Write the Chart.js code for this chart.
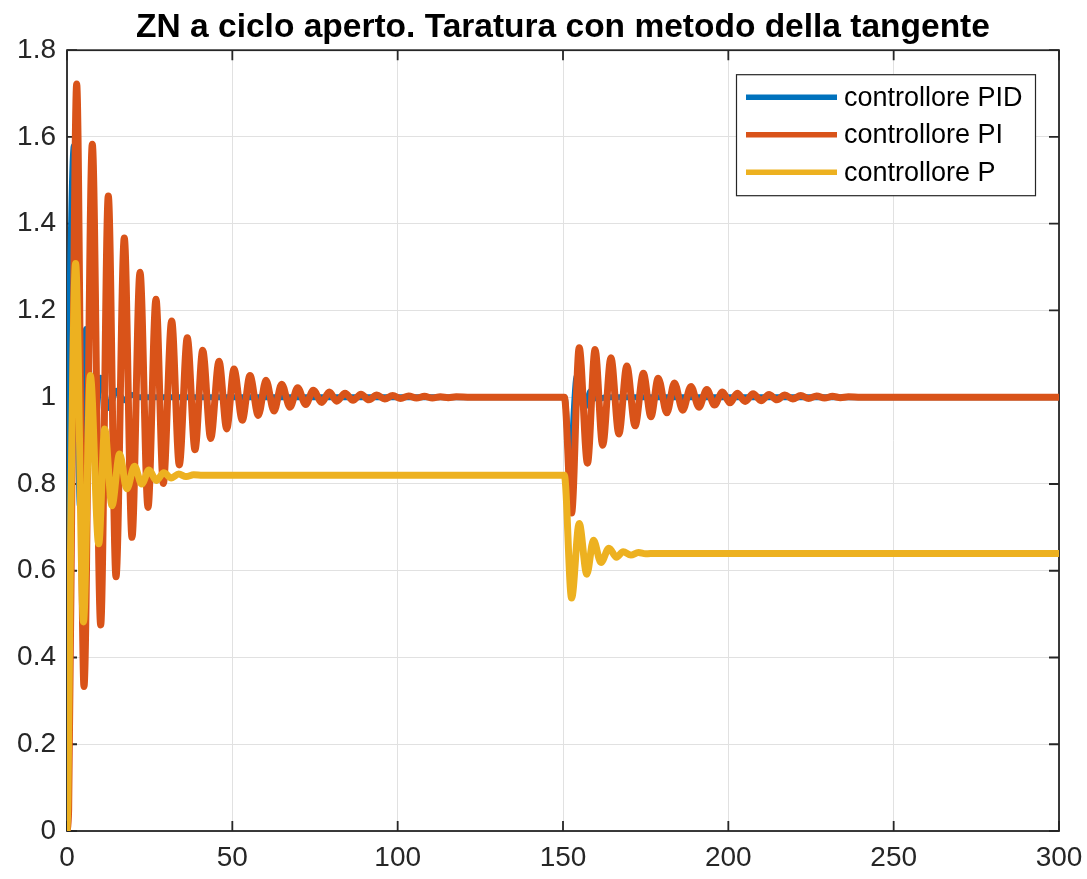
<!DOCTYPE html>
<html>
<head>
<meta charset="utf-8">
<script src="https://cdn.jsdelivr.net/npm/chart.js@4.4.1/dist/chart.umd.min.js"></script>
<style>
  html, body { margin: 0; padding: 0; background: #fff; }
  canvas { display: block; }
</style>
</head>
<body>
<canvas id="znChart" width="1087" height="879"></canvas>
<script>
// Step responses (time, output) for the three ZN-tuned controllers
const pidT = [0, 0.15, 0.45, 1.3, 2.1, 3.9, 5.75, 8.0, 10.2, 12.6, 15.0, 17.3, 19.6, 22.0,
  150.0, 150.5, 152.0, 154.2, 156.3, 158.5, 160.6, 163.0, 300];
const pidY = [0, 0.2, 0.9, 1.42, 1.58, 0.75, 1.157, 0.9, 1.045, 0.975, 1.015, 0.993, 1.005, 1.0,
  1.0, 1.0, 0.84, 1.05, 0.975, 1.015, 0.995, 1.0, 1.0];

const piT = [0, 0.5, 1.6, 2.93,
  5.14, 7.65, 10.19, 12.49, 14.82, 17.33, 19.66, 22.08, 24.5, 26.91, 29.12, 31.66, 33.96,
  36.38, 38.71, 41.04, 43.46, 45.97, 48.3, 50.5, 53.01, 55.34, 57.85, 60.18, 62.6, 64.93,
  67.44, 69.77, 72.19, 74.49, 77.03, 79.32, 81.56,
  84.1, 86.5, 88.9, 91.3, 93.7, 96.1, 98.5, 100.9, 103.3, 105.7, 108.1, 110.5, 112.9, 115.3, 117.7,
  122, 150, 150.4,
  152.6, 154.9, 157.4, 159.7, 162.0, 164.5, 166.9, 169.3, 171.8, 174.3, 176.6, 178.8, 181.4,
  183.7, 186.2, 188.7, 191.1, 193.5, 195.8, 198.2, 200.5, 202.7,
  205.1, 207.5, 209.9, 212.3, 214.7, 217.1, 219.5, 221.9, 224.3, 226.7, 229.1, 231.5, 233.9, 236.3,
  240, 300];
const piY = [0, 0.05, 0.9, 1.722,
  0.333, 1.583, 0.475, 1.464, 0.586, 1.367, 0.677, 1.288, 0.746, 1.226, 0.801, 1.176, 0.844,
  1.137, 0.879, 1.108, 0.905, 1.083, 0.927, 1.065, 0.947, 1.050, 0.958, 1.039, 0.968, 1.030,
  0.977, 1.022, 0.983, 1.016, 0.988, 1.012, 0.991,
  1.009, 0.993, 1.007, 0.994, 1.005, 0.996, 1.004, 0.997, 1.003, 0.998, 1.002, 0.998, 1.001, 0.999, 1.001,
  1.0, 1.0, 1.0,
  0.733, 1.114, 0.848, 1.110, 0.889, 1.091, 0.915, 1.072, 0.934, 1.055, 0.955, 1.044, 0.964,
  1.033, 0.970, 1.025, 0.977, 1.018, 0.982, 1.012, 0.987, 1.009,
  0.990, 1.008, 0.992, 1.006, 0.994, 1.005, 0.996, 1.004, 0.997, 1.003, 0.998, 1.002, 0.999, 1.001,
  1.0, 1.0];

const pT = [0, 0.3, 1.2, 2.6,
  4.99, 7.05, 9.6, 11.4, 13.6, 15.9, 18.1, 20.4, 22.6, 24.8, 27.0, 29.3, 31.5, 33.8, 36.0, 38.3,
  41.0, 150.0, 150.4,
  152.6, 154.9, 157.2, 159.2, 161.5, 163.9, 166.2, 168.2, 170.5, 172.8, 175.0,
  178.0, 300];
const pY = [0, 0.08, 0.75, 1.308,
  0.482, 1.05, 0.662, 0.927, 0.75, 0.869, 0.789, 0.841, 0.80, 0.832, 0.808, 0.826, 0.814, 0.823, 0.817, 0.821,
  0.82, 0.82, 0.82,
  0.537, 0.709, 0.592, 0.67, 0.619, 0.652, 0.631, 0.644, 0.636, 0.642, 0.639,
  0.64, 0.64];

const seriesNames = ['controllore PID', 'controllore PI', 'controllore P'];
const seriesColors = ['#0072BD', '#D95319', '#EDB120'];
const seriesWidths = [6, 7, 7];

const xTicks = [0, 50, 100, 150, 200, 250, 300];
const yTicks = [0, 0.2, 0.4, 0.6, 0.8, 1, 1.2, 1.4, 1.6, 1.8];

const FONT = '"Liberation Sans", Arial, Helvetica, sans-serif';
const AXIS_COLOR = '#262626';

function toPoints(ts, ys) {
  return ts.map((t, i) => ({ x: t, y: ys[i] }));
}

// Box around the axes with inward tick marks on all four sides
const axesBox = {
  id: 'axesBox',
  beforeDatasetsDraw(chart) {
    const { ctx, chartArea: a, scales } = chart;
    const len = 10;
    ctx.save();
    ctx.strokeStyle = AXIS_COLOR;
    ctx.lineWidth = 1.8;
    ctx.beginPath();
    xTicks.forEach(v => {
      const px = scales.x.getPixelForValue(v);
      ctx.moveTo(px, a.bottom); ctx.lineTo(px, a.bottom - len);
      ctx.moveTo(px, a.top); ctx.lineTo(px, a.top + len);
    });
    yTicks.forEach(v => {
      const py = scales.y.getPixelForValue(v);
      ctx.moveTo(a.left, py); ctx.lineTo(a.left + len, py);
      ctx.moveTo(a.right, py); ctx.lineTo(a.right - len, py);
    });
    ctx.stroke();
    ctx.strokeRect(a.left, a.top, a.right - a.left, a.bottom - a.top);
    ctx.restore();
  }
};

// Legend box in the upper right corner of the axes
const boxLegend = {
  id: 'boxLegend',
  afterDraw(chart) {
    const { ctx, chartArea: a } = chart;
    const w = 299, h = 121;
    const left = a.right - 24 - w, top = a.top + 24;
    ctx.save();
    ctx.fillStyle = '#fff';
    ctx.fillRect(left, top, w, h);
    ctx.strokeStyle = AXIS_COLOR;
    ctx.lineWidth = 1.2;
    ctx.strokeRect(left + 0.5, top + 0.5, w, h);
    ctx.font = '27px ' + FONT;
    ctx.textBaseline = 'middle';
    ctx.fillStyle = '#000';
    chart.data.datasets.forEach((ds, i) => {
      const y = top + 23 + i * 37.5;
      ctx.strokeStyle = ds.borderColor;
      ctx.lineWidth = 5.5;
      ctx.beginPath();
      ctx.moveTo(left + 10, y);
      ctx.lineTo(left + 101, y);
      ctx.stroke();
      ctx.fillText(ds.label, left + 108, y + 1);
    });
    ctx.restore();
  }
};

const ctx = document.getElementById('znChart').getContext('2d');
new Chart(ctx, {
  type: 'line',
  data: {
    datasets: seriesNames.map((name, i) => ({
      label: name,
      data: toPoints([pidT, piT, pT][i], [pidY, piY, pY][i]),
      borderColor: seriesColors[i],
      borderWidth: seriesWidths[i],
      order: 3 - i
    }))
  },
  options: {
    responsive: false,
    animation: false,
    devicePixelRatio: 1,
    layout: { padding: { left: 0, right: 28, top: 0, bottom: 0 } },
    elements: {
      point: { radius: 0 },
      line: {
        cubicInterpolationMode: 'monotone',
        borderJoinStyle: 'round',
        borderCapStyle: 'round'
      }
    },
    plugins: {
      legend: { display: false },
      tooltip: { enabled: false },
      title: {
        display: true,
        fullSize: false,
        text: 'ZN a ciclo aperto. Taratura con metodo della tangente',
        color: '#000',
        font: { family: FONT, size: 33.5, weight: 'bold', lineHeight: 1.2 },
        padding: { top: 8, bottom: 2 }
      }
    },
    scales: {
      x: {
        type: 'linear',
        min: 0,
        max: 300,
        afterBuildTicks: s => { s.ticks = xTicks.map(v => ({ value: v })); },
        afterFit: s => { s.height = 48; s.paddingLeft = 0; s.paddingRight = 0; },
        ticks: {
          color: AXIS_COLOR,
          font: { family: FONT, size: 28 },
          padding: 10,
          maxRotation: 0,
          callback: v => String(v)
        },
        grid: { color: '#e1e1e1', lineWidth: 1, drawTicks: false },
        border: { display: false }
      },
      y: {
        type: 'linear',
        min: 0,
        max: 1.8,
        afterBuildTicks: s => { s.ticks = yTicks.map(v => ({ value: v })); },
        afterFit: s => { s.width = 67; s.paddingTop = 0; s.paddingBottom = 0; },
        ticks: {
          color: AXIS_COLOR,
          font: { family: FONT, size: 28 },
          padding: 11,
          callback: v => String(v)
        },
        grid: { color: '#e1e1e1', lineWidth: 1, drawTicks: false },
        border: { display: false }
      }
    }
  },
  plugins: [axesBox, boxLegend]
});
</script>
</body>
</html>
